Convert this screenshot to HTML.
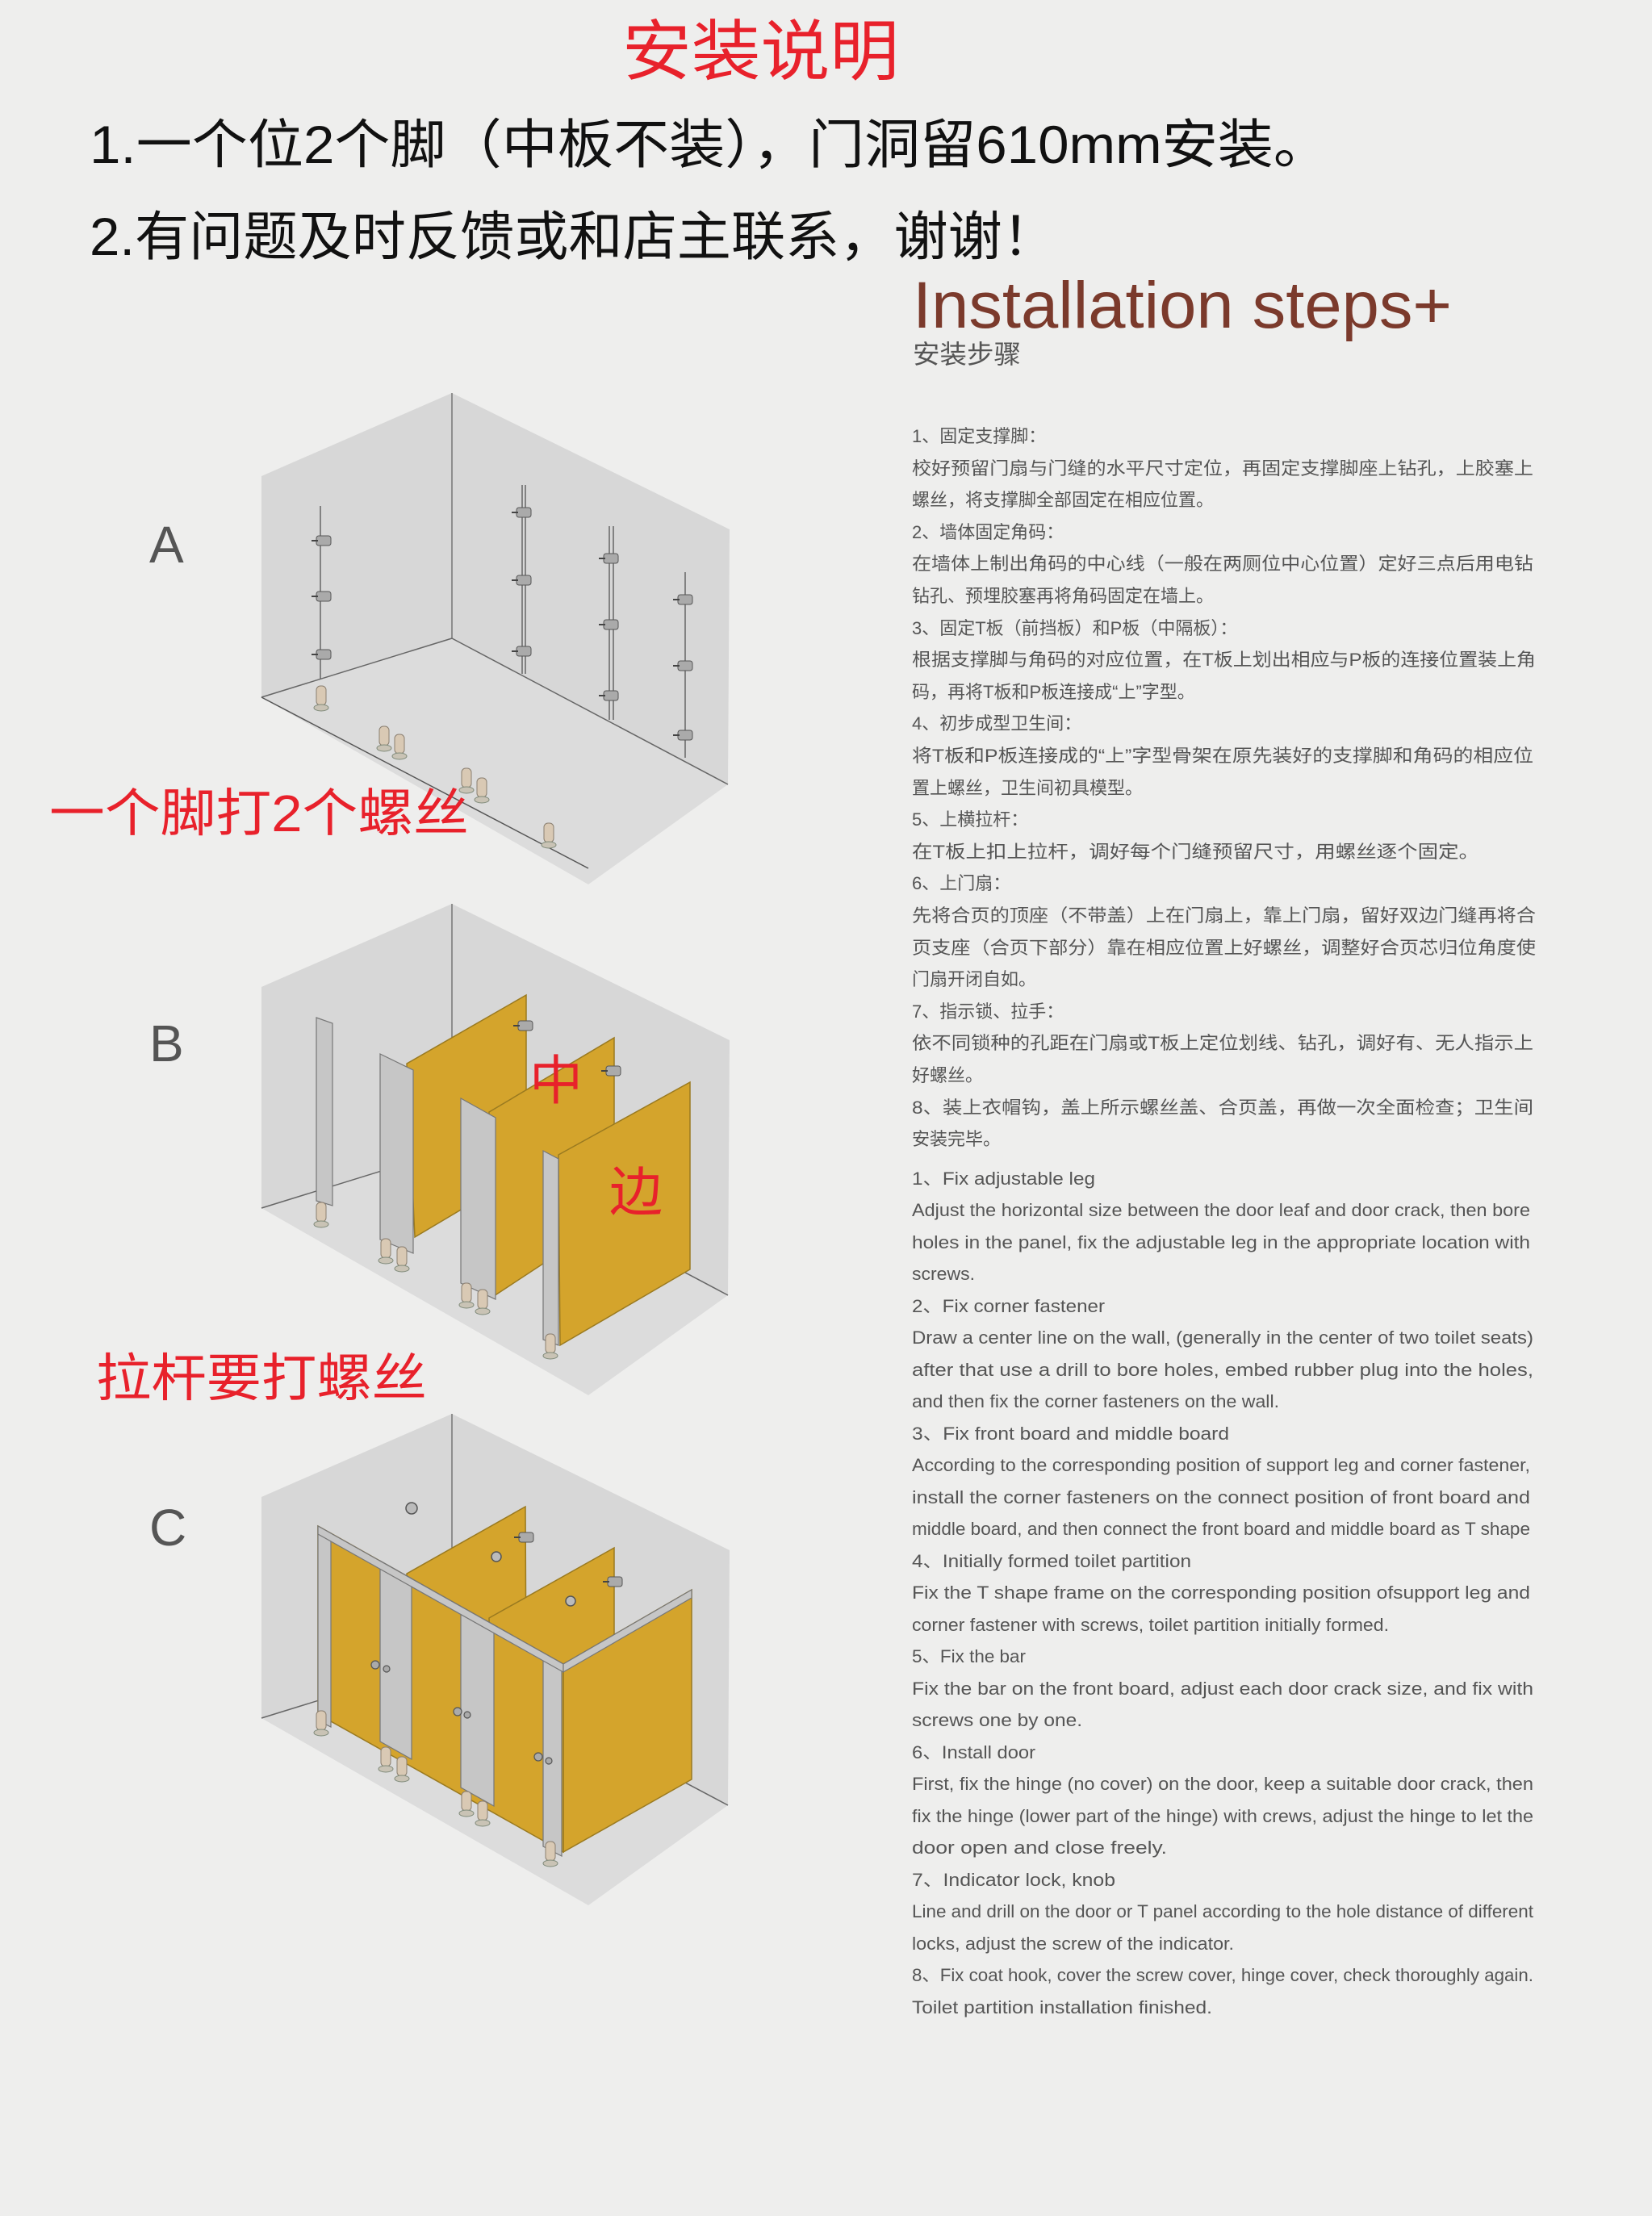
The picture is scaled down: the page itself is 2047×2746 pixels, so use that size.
<!DOCTYPE html>
<html><head><meta charset="utf-8"><style>
html,body{margin:0;padding:0;background:#eeeeed;}
svg{display:block;}
.cn{font-family:"Liberation Sans","Noto Sans CJK SC",sans-serif;}
</style></head><body>
<svg width="2047" height="2746" viewBox="0 0 2047 2746" xmlns="http://www.w3.org/2000/svg">
<defs>
<g id="room">
  <polygon points="324,590 560,487 560,791 324,864" fill="#d7d7d7"/>
  <polygon points="560,487 904,656 902,972 560,791" fill="#d7d7d7"/>
  <polygon points="324,864 560,791 902,972 729,1096" fill="#dcdcdc"/>
  <line x1="560" y1="487" x2="560" y2="791" stroke="#777" stroke-width="1.5"/>
  <line x1="324" y1="864" x2="560" y2="791" stroke="#666" stroke-width="1.5"/>
  <line x1="560" y1="791" x2="902" y2="972" stroke="#666" stroke-width="1.5"/>
</g>
<g id="foot">
  <rect x="-6" y="-30" width="12" height="24" rx="5" fill="#d9c9b4" stroke="#8a7f70" stroke-width="1"/>
  <ellipse cx="0" cy="-3" rx="9" ry="4" fill="#c9c3b5" stroke="#7f8a7a" stroke-width="1"/>
</g>
<g id="br">
  <rect x="-10" y="-6" width="18" height="12" rx="3" fill="#aaa" stroke="#555" stroke-width="1"/>
  <line x1="-16" y1="0" x2="-8" y2="0" stroke="#444" stroke-width="2"/>
</g>
</defs>
<rect width="2047" height="2746" fill="#eeeeed"/>

<!-- header -->
<text x="771" y="92" font-size="82" fill="#e8212b" class="cn" textLength="343" lengthAdjust="spacingAndGlyphs">安装说明</text>
<text x="111" y="202" font-size="66" fill="#111" class="cn" textLength="1536" lengthAdjust="spacingAndGlyphs">1.一个位2个脚（中板不装），门洞留610mm安装。</text>
<text x="111" y="316" font-size="66" fill="#111" class="cn" textLength="1198" lengthAdjust="spacingAndGlyphs">2.有问题及时反馈或和店主联系，谢谢！</text>

<text x="1131" y="406" font-size="82" fill="#7b3a2c" font-family="Liberation Sans, sans-serif" textLength="668" lengthAdjust="spacingAndGlyphs">Installation steps+</text>
<text x="1131" y="450" font-size="32" fill="#555" class="cn" textLength="134" lengthAdjust="spacingAndGlyphs">安装步骤</text>

<!-- Chinese steps -->
<g class="cn" font-size="22" fill="#555">
<text x="1130" y="548">1、固定支撑脚：</text>
<text x="1130" y="588" textLength="770" lengthAdjust="spacingAndGlyphs">校好预留门扇与门缝的水平尺寸定位，再固定支撑脚座上钻孔，上胶塞上</text>
<text x="1130" y="627">螺丝，将支撑脚全部固定在相应位置。</text>
<text x="1130" y="667">2、墙体固定角码：</text>
<text x="1130" y="706" textLength="770" lengthAdjust="spacingAndGlyphs">在墙体上制出角码的中心线（一般在两厕位中心位置）定好三点后用电钻</text>
<text x="1130" y="746">钻孔、预埋胶塞再将角码固定在墙上。</text>
<text x="1130" y="786">3、固定T板（前挡板）和P板（中隔板）：</text>
<text x="1130" y="825" textLength="773" lengthAdjust="spacingAndGlyphs">根据支撑脚与角码的对应位置，在T板上划出相应与P板的连接位置装上角</text>
<text x="1130" y="865">码，再将T板和P板连接成“上”字型。</text>
<text x="1130" y="904">4、初步成型卫生间：</text>
<text x="1130" y="944" textLength="770" lengthAdjust="spacingAndGlyphs">将T板和P板连接成的“上”字型骨架在原先装好的支撑脚和角码的相应位</text>
<text x="1130" y="984">置上螺丝，卫生间初具模型。</text>
<text x="1130" y="1023">5、上横拉杆：</text>
<text x="1130" y="1063" textLength="703" lengthAdjust="spacingAndGlyphs">在T板上扣上拉杆，调好每个门缝预留尺寸，用螺丝逐个固定。</text>
<text x="1130" y="1102">6、上门扇：</text>
<text x="1130" y="1142" textLength="773" lengthAdjust="spacingAndGlyphs">先将合页的顶座（不带盖）上在门扇上，靠上门扇，留好双边门缝再将合</text>
<text x="1130" y="1182" textLength="773" lengthAdjust="spacingAndGlyphs">页支座（合页下部分）靠在相应位置上好螺丝，调整好合页芯归位角度使</text>
<text x="1130" y="1221">门扇开闭自如。</text>
<text x="1130" y="1261">7、指示锁、拉手：</text>
<text x="1130" y="1300" textLength="770" lengthAdjust="spacingAndGlyphs">依不同锁种的孔距在门扇或T板上定位划线、钻孔，调好有、无人指示上</text>
<text x="1130" y="1340">好螺丝。</text>
<text x="1130" y="1380" textLength="770" lengthAdjust="spacingAndGlyphs">8、装上衣帽钩，盖上所示螺丝盖、合页盖，再做一次全面检查；卫生间</text>
<text x="1130" y="1419">安装完毕。</text>
</g>

<!-- English steps -->
<g class="cn" font-size="22" fill="#555" lengthAdjust="spacingAndGlyphs">
<text x="1130" y="1468" textLength="227" lengthAdjust="spacingAndGlyphs">1、Fix adjustable leg</text>
<text x="1130" y="1507" textLength="766" lengthAdjust="spacingAndGlyphs">Adjust the horizontal size between the door leaf and door crack, then bore</text>
<text x="1130" y="1547" textLength="766" lengthAdjust="spacingAndGlyphs">holes in the panel, fix the adjustable leg in the appropriate location with</text>
<text x="1130" y="1586" textLength="78" lengthAdjust="spacingAndGlyphs">screws.</text>
<text x="1130" y="1626" textLength="239" lengthAdjust="spacingAndGlyphs">2、Fix corner fastener</text>
<text x="1130" y="1665" textLength="770" lengthAdjust="spacingAndGlyphs">Draw a center line on the wall, (generally in the center of two toilet seats)</text>
<text x="1130" y="1705" textLength="770" lengthAdjust="spacingAndGlyphs">after that use a drill to bore holes, embed rubber plug into the holes,</text>
<text x="1130" y="1744" textLength="455" lengthAdjust="spacingAndGlyphs">and then fix the corner fasteners on the wall.</text>
<text x="1130" y="1784" textLength="393" lengthAdjust="spacingAndGlyphs">3、Fix front board and middle board</text>
<text x="1130" y="1823" textLength="766" lengthAdjust="spacingAndGlyphs">According to the corresponding position of support leg and corner fastener,</text>
<text x="1130" y="1863" textLength="766" lengthAdjust="spacingAndGlyphs">install the corner fasteners  on the connect position of front board and</text>
<text x="1130" y="1902" textLength="766" lengthAdjust="spacingAndGlyphs">middle board, and then connect the front board and middle board as T shape</text>
<text x="1130" y="1942" textLength="346" lengthAdjust="spacingAndGlyphs">4、Initially formed toilet partition</text>
<text x="1130" y="1981" textLength="766" lengthAdjust="spacingAndGlyphs">Fix the T shape frame on the corresponding position ofsupport leg and</text>
<text x="1130" y="2021" textLength="591" lengthAdjust="spacingAndGlyphs">corner fastener with screws, toilet partition initially formed.</text>
<text x="1130" y="2060" textLength="141" lengthAdjust="spacingAndGlyphs">5、Fix the bar</text>
<text x="1130" y="2100" textLength="770" lengthAdjust="spacingAndGlyphs">Fix the bar on the front board, adjust each door crack size, and fix with</text>
<text x="1130" y="2139" textLength="211" lengthAdjust="spacingAndGlyphs">screws one by one.</text>
<text x="1130" y="2179" textLength="153" lengthAdjust="spacingAndGlyphs">6、Install door</text>
<text x="1130" y="2218" textLength="770" lengthAdjust="spacingAndGlyphs">First, fix the hinge (no cover) on the door, keep a suitable door crack, then</text>
<text x="1130" y="2258" textLength="770" lengthAdjust="spacingAndGlyphs">fix the hinge (lower part of the hinge) with crews, adjust the hinge to let the</text>
<text x="1130" y="2297" textLength="316" lengthAdjust="spacingAndGlyphs">door open and close freely.</text>
<text x="1130" y="2337" textLength="252" lengthAdjust="spacingAndGlyphs">7、Indicator lock, knob</text>
<text x="1130" y="2376" textLength="770" lengthAdjust="spacingAndGlyphs">Line and drill on the door or T panel according to the hole distance of different</text>
<text x="1130" y="2416" textLength="399" lengthAdjust="spacingAndGlyphs">locks, adjust the screw of the indicator.</text>
<text x="1130" y="2455" textLength="770" lengthAdjust="spacingAndGlyphs">8、Fix coat hook, cover the screw cover, hinge cover, check thoroughly again.</text>
<text x="1130" y="2495" textLength="372" lengthAdjust="spacingAndGlyphs">Toilet partition installation finished.</text>
</g>

<!-- labels -->
<g font-family="Liberation Sans, sans-serif" font-size="64" fill="#555">
<text x="185" y="697">A</text>
<text x="185" y="1315">B</text>
<text x="185" y="1915">C</text>
</g>

<!-- Diagram A -->
<use href="#room"/>
<line x1="324" y1="864" x2="729" y2="1076" stroke="#555" stroke-width="1.5"/>
<g stroke="#666" stroke-width="1.5">
<line x1="397" y1="627" x2="397" y2="841"/>
<line x1="647" y1="601" x2="647" y2="835"/><line x1="651" y1="601" x2="651" y2="835"/>
<line x1="755" y1="652" x2="755" y2="892"/><line x1="760" y1="652" x2="760" y2="892"/>
<line x1="849" y1="709" x2="849" y2="939"/>
</g>
<use href="#br" x="402" y="670"/><use href="#br" x="402" y="739"/><use href="#br" x="402" y="811"/>
<use href="#br" x="650" y="635"/><use href="#br" x="650" y="719"/><use href="#br" x="650" y="807"/>
<use href="#br" x="758" y="692"/><use href="#br" x="758" y="774"/><use href="#br" x="758" y="862"/>
<use href="#br" x="850" y="743"/><use href="#br" x="850" y="825"/><use href="#br" x="850" y="911"/>
<use href="#foot" x="398" y="880"/><use href="#foot" x="476" y="930"/><use href="#foot" x="495" y="940"/>
<use href="#foot" x="578" y="982"/><use href="#foot" x="597" y="994"/><use href="#foot" x="680" y="1050"/>

<!-- Diagram B -->
<g transform="translate(0,633)"><use href="#room"/></g>
<g stroke="#9a7a20" stroke-width="1.5" fill="#d4a42c">
<polygon points="504,1318 652,1233 652,1451 514,1533"/>
<polygon points="606,1378 761,1286 761,1508 612,1606"/>
<polygon points="692,1431 855,1341 855,1573 694,1667"/>
</g>
<g fill="#c6c6c6" stroke="#777" stroke-width="1.2">
<polygon points="392,1261 412,1268 412,1494 392,1488"/>
<polygon points="471,1306 512,1326 512,1553 471,1536"/>
<polygon points="571,1361 614,1385 614,1610 571,1590"/>
<polygon points="673,1426 692,1436 692,1667 673,1660"/>
</g>
<use href="#br" x="652" y="1271"/><use href="#br" x="761" y="1327"/>
<use href="#foot" x="398" y="1520"/><use href="#foot" x="478" y="1565"/><use href="#foot" x="498" y="1575"/>
<use href="#foot" x="578" y="1620"/><use href="#foot" x="598" y="1628"/><use href="#foot" x="682" y="1683"/>

<!-- Diagram C -->
<g transform="translate(0,1265)"><use href="#room"/></g>
<circle cx="510" cy="1869" r="7" fill="#bbb" stroke="#555" stroke-width="1.5"/>
<g stroke="#9a7a20" stroke-width="1.5" fill="#d4a42c">
<polygon points="504,1950 651,1867 652,2083 514,2165"/>
<polygon points="606,2005 761,1918 761,2140 612,2238"/>
<polygon points="698,2062 857,1970 857,2205 698,2295"/>
<polygon points="394,1891 698,2062 698,2295 394,2124"/>
</g>
<use href="#br" x="653" y="1905"/><use href="#br" x="763" y="1960"/>
<circle cx="615" cy="1929" r="6" fill="#bbb" stroke="#555" stroke-width="1.5"/>
<circle cx="707" cy="1984" r="6" fill="#bbb" stroke="#555" stroke-width="1.5"/>
<g fill="#c6c6c6" stroke="#777" stroke-width="1.2">
<polygon points="394,1891 410,1900 410,2140 394,2132"/>
<polygon points="471,1934 510,1956 510,2180 471,2158"/>
<polygon points="571,1991 612,2014 612,2238 571,2215"/>
<polygon points="673,2048 696,2061 696,2300 673,2288"/>
<polygon points="394,1891 698,2062 698,2072 394,1901"/>
<polygon points="698,2062 857,1970 857,1980 698,2072"/>
</g>
<g fill="#aaa" stroke="#555" stroke-width="1.2">
<circle cx="465" cy="2063" r="5"/><circle cx="479" cy="2068" r="4"/>
<circle cx="567" cy="2121" r="5"/><circle cx="579" cy="2125" r="4"/>
<circle cx="667" cy="2177" r="5"/><circle cx="680" cy="2182" r="4"/>
</g>
<use href="#foot" x="398" y="2150"/><use href="#foot" x="478" y="2195"/><use href="#foot" x="498" y="2207"/>
<use href="#foot" x="578" y="2250"/><use href="#foot" x="598" y="2262"/><use href="#foot" x="682" y="2312"/>

<!-- red annotations -->
<g class="cn" fill="#e8212b">
<text x="61" y="1030" font-size="64" textLength="520" lengthAdjust="spacingAndGlyphs">一个脚打2个螺丝</text>
<text x="119" y="1730" font-size="64" textLength="410" lengthAdjust="spacingAndGlyphs">拉杆要打螺丝</text>
<text x="656" y="1362" font-size="66">中</text>
<text x="755" y="1500" font-size="66">边</text>
</g>
</svg>
</body></html>
